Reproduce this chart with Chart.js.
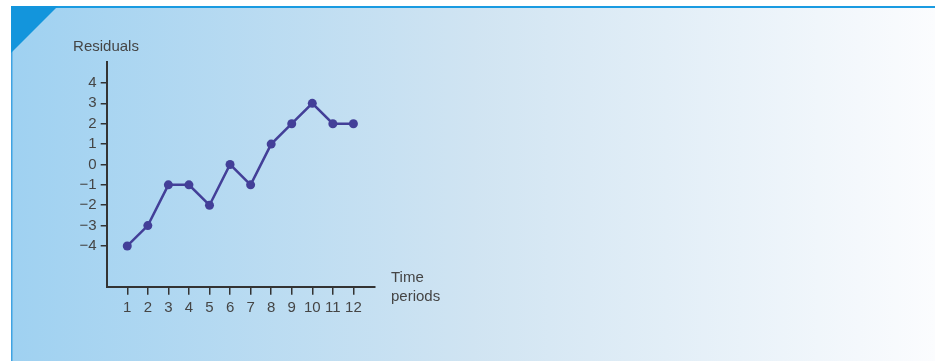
<!DOCTYPE html>
<html>
<head>
<meta charset="utf-8">
<script src="https://cdn.jsdelivr.net/npm/chart.js@4/dist/chart.umd.min.js"></script>
<style>
html,body{margin:0;padding:0;background:#fff;}
#wrap{width:935px;height:361px;position:relative;}
</style>
</head>
<body>
<div id="wrap"><canvas id="c" width="935" height="361"></canvas></div>
<script>
const timePeriods = [1,2,3,4,5,6,7,8,9,10,11,12];
const residuals = [-4,-3,-1,-1,-2,0,-1,1,2,3,2,2];
const yTickValues = [-4,-3,-2,-1,0,1,2,3,4];
const yTickLabels = ['\u22124','\u22123','\u22122','\u22121','0','1','2','3','4'];
const yAxisTitle = 'Residuals';
const xAxisTitle = ['Time','periods'];

const FONT = '"Liberation Sans", Arial, sans-serif';
const TEXT = '#454545';
const LINE = '#433f98';

const backgroundPlugin = {
  id: 'panelBg',
  beforeDraw(chart) {
    const ctx = chart.ctx;
    const W = chart.width, H = chart.height;
    ctx.save();
    ctx.fillStyle = '#ffffff';
    ctx.fillRect(0,0,W,H);
    const g = ctx.createLinearGradient(11,0,W,0);
    g.addColorStop(0,'#9fd1f1');
    g.addColorStop(0.5,'#d0e4f2');
    g.addColorStop(1,'#fbfcfe');
    ctx.fillStyle = g;
    ctx.fillRect(11,6,W-11,H-6);
    ctx.fillStyle = '#3fa3e2';
    ctx.fillRect(11,6,1.5,H-6);
    ctx.fillStyle = '#1a9be1';
    ctx.fillRect(11,6,W-11,2);
    ctx.fillStyle = '#1395dc';
    ctx.beginPath();
    ctx.moveTo(11,6);
    ctx.lineTo(58,6);
    ctx.lineTo(11,53);
    ctx.closePath();
    ctx.fill();
    ctx.restore();
  },
  afterDraw(chart) {
    const ctx = chart.ctx;
    ctx.save();
    ctx.fillStyle = TEXT;
    ctx.font = '15px ' + FONT;
    ctx.textBaseline = 'middle';
    ctx.textAlign = 'center';
    ctx.fillText(yAxisTitle, 106, 47);
    ctx.textAlign = 'left';
    ctx.fillText(xAxisTitle[0], 391, 278);
    ctx.fillText(xAxisTitle[1], 391, 297);
    ctx.restore();
  }
};

new Chart(document.getElementById('c'), {
  type: 'line',
  data: {
    labels: timePeriods,
    datasets: [{
      data: timePeriods.map((t,i)=>({x:t,y:residuals[i]})),
      borderColor: LINE,
      backgroundColor: LINE,
      borderWidth: 2.5,
      pointRadius: 4.5,
      pointBackgroundColor: LINE,
      pointBorderColor: LINE,
      pointBorderWidth: 0,
      tension: 0,
      fill: false
    }]
  },
  options: {
    responsive: false,
    animation: false,
    devicePixelRatio: 1,
    layout: { padding: { left: 66.7, right: 560, top: 62, bottom: 44.3 } },
    plugins: { legend: { display: false }, tooltip: { enabled: false }, title: { display: false } },
    scales: {
      x: {
        type: 'linear',
        min: 0,
        max: 13.05,
        afterBuildTicks(scale) { scale.ticks = timePeriods.map(v=>({value:v})); },
        afterFit(scale) { scale.height = 30; },
        grid: { drawOnChartArea: false, drawTicks: true, tickLength: 8, color: '#333', lineWidth: 1.5 },
        border: { display: true, color: '#333', width: 2 },
        ticks: { color: TEXT, font: { size: 15, family: FONT }, padding: 4, maxRotation: 0, autoSkip: false,
          callback: (v)=> String(v) }
      },
      y: {
        type: 'linear',
        min: -6,
        max: 5.03,
        afterBuildTicks(scale) { scale.ticks = yTickValues.map(v=>({value:v})); },
        afterFit(scale) { scale.width = 40; },
        grid: { drawOnChartArea: false, drawTicks: true, tickLength: 6, color: '#333', lineWidth: 1.5 },
        border: { display: true, color: '#333', width: 2 },
        ticks: { color: TEXT, font: { size: 15, family: FONT }, padding: 4, autoSkip: false,
          callback: (v)=> yTickLabels[yTickValues.indexOf(v)] }
      }
    }
  },
  plugins: [backgroundPlugin]
});
</script>
</body>
</html>
